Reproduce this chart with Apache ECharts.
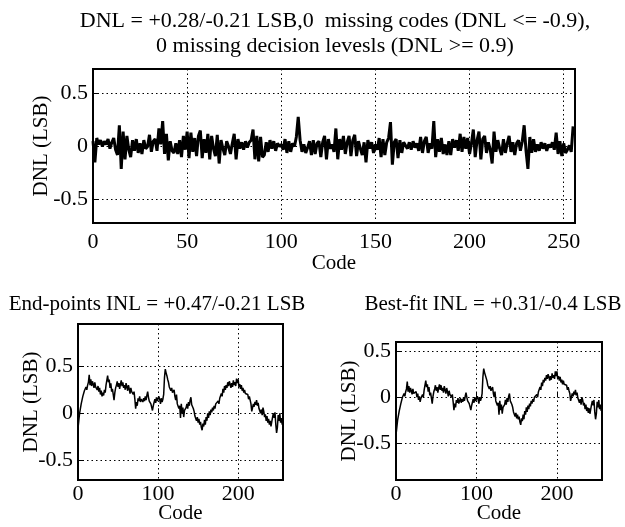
<!DOCTYPE html>
<html><head><meta charset="utf-8">
<script src="https://cdn.jsdelivr.net/npm/echarts@6/dist/echarts.min.js"></script>
<style>html,body{margin:0;padding:0;background:#fff}#c{width:625px;height:527px}</style>
</head><body><div id="c"></div>
<script>
// ---- data ----
const titleTop = 'DNL = +0.28/-0.21 LSB,0  missing codes (DNL <= -0.9),\n0 missing decision levesls (DNL >= 0.9)';
const titleLeft = 'End-points INL = +0.47/-0.21 LSB';
const titleRight = 'Best-fit INL = +0.31/-0.4 LSB';

const dnl = [
 0.05,-0.15,0.08,0.02,0.06,0.0,0.05,0.02,0.07,-0.02,0.04,0.08,-0.03,-0.08,0.2,-0.21,
 0.14,-0.12,0.1,-0.03,-0.1,0.06,-0.04,0.07,-0.06,0.03,-0.07,0.06,-0.02,0.0,0.11,-0.05,
 0.05,0.07,-0.04,0.17,0.02,0.24,-0.07,0.12,-0.13,0.05,-0.04,-0.06,0.03,-0.07,0.06,-0.1,
 0.1,-0.03,0.14,-0.11,0.13,-0.05,0.08,-0.09,0.1,0.15,-0.11,0.07,-0.06,0.12,-0.12,0.1,
 -0.02,-0.09,0.11,-0.16,0.06,-0.02,-0.08,0.05,0.0,-0.07,0.03,0.12,-0.12,0.07,-0.02,0.04,
 -0.03,0.05,-0.01,0.04,0.06,0.16,-0.12,0.1,-0.14,0.09,-0.1,-0.08,0.04,-0.05,0.06,-0.02,
 0.05,-0.04,0.03,0.0,0.02,-0.03,0.07,-0.06,0.05,-0.05,0.03,0.0,0.09,0.28,0.06,-0.05,
 0.02,-0.06,-0.01,0.05,-0.08,0.06,-0.07,0.03,0.05,-0.1,0.04,0.1,-0.12,0.07,-0.02,0.02,
 -0.05,0.17,-0.12,0.07,-0.03,0.1,-0.07,0.04,0.1,-0.09,0.06,0.11,-0.09,0.05,-0.02,-0.08,
 0.04,-0.15,0.06,-0.02,0.04,-0.06,0.02,-0.03,0.08,-0.1,0.07,-0.08,0.04,0.08,0.23,-0.17,
 0.04,0.07,-0.11,0.06,-0.06,0.04,0.01,-0.02,0.04,-0.03,0.05,-0.01,0.03,-0.04,0.09,-0.06,
 0.05,0.09,-0.06,0.03,-0.02,0.24,-0.1,0.07,-0.05,0.08,-0.07,0.02,-0.08,0.05,-0.08,0.07,
 -0.01,0.06,-0.04,0.12,-0.05,0.09,-0.02,0.08,-0.07,0.03,0.16,-0.1,0.06,0.14,-0.12,0.07,
 0.1,-0.06,0.04,-0.03,-0.16,0.14,-0.05,0.06,-0.02,-0.08,0.07,-0.06,0.03,0.1,-0.05,0.04,
 -0.08,0.03,0.06,-0.04,0.05,0.2,-0.04,-0.21,0.09,-0.06,0.07,-0.05,0.02,-0.04,0.04,-0.02,
 0.03,-0.04,0.02,-0.01,0.04,-0.03,0.13,-0.07,0.05,-0.09,0.03,-0.06,-0.03,0.01,-0.05,0.19
];

const inlEnd = [
 -0.16,-0.08,0.0,0.05,0.1,0.14,0.18,0.2,0.24,0.22,0.28,0.25,0.3,0.33,0.41,0.3,
 0.36,0.29,0.34,0.31,0.27,0.33,0.28,0.3,0.25,0.29,0.23,0.27,0.2,0.24,0.18,0.22,
 0.19,0.25,0.22,0.3,0.28,0.4,0.33,0.36,0.27,0.32,0.23,0.26,0.2,0.14,0.22,0.27,
 0.3,0.34,0.28,0.32,0.26,0.31,0.35,0.29,0.33,0.27,0.3,0.25,0.32,0.28,0.24,0.3,
 0.26,0.21,0.27,0.23,0.25,0.2,0.23,0.15,0.05,0.12,0.08,0.16,0.13,0.18,0.12,0.15,
 0.17,0.12,0.16,0.13,0.18,0.14,0.19,0.23,0.17,0.13,0.14,0.1,0.12,0.03,0.08,0.1,
 0.15,0.11,0.17,0.13,0.12,0.18,0.15,0.1,0.16,0.12,0.15,0.2,0.38,0.47,0.43,0.4,
 0.36,0.33,0.28,0.3,0.24,0.27,0.22,0.21,0.25,0.18,0.14,0.2,0.1,0.12,0.05,0.08,
 -0.05,0.1,0.0,0.06,-0.04,0.03,0.01,0.06,0.1,0.05,0.12,0.08,0.14,0.17,0.09,0.07,
 0.05,0.02,-0.03,-0.01,-0.08,-0.04,-0.1,-0.06,-0.12,-0.09,-0.15,-0.18,-0.11,-0.14,-0.07,-0.12,
 -0.04,-0.08,0.0,-0.05,0.02,-0.02,0.04,0.01,0.06,0.03,0.08,0.05,0.1,0.12,0.08,0.13,
 0.1,0.16,0.14,0.21,0.18,0.26,0.22,0.29,0.25,0.3,0.27,0.33,0.29,0.34,0.31,0.27,
 0.32,0.28,0.35,0.3,0.33,0.29,0.37,0.32,0.36,0.28,0.31,0.26,0.3,0.24,0.27,0.22,
 0.25,0.21,0.23,0.19,0.2,0.15,0.18,0.14,0.1,0.02,0.06,0.1,0.07,0.12,0.09,0.14,
 0.08,0.11,0.05,0.07,0.0,0.04,-0.02,0.06,0.02,-0.04,-0.01,-0.08,-0.03,-0.1,-0.06,-0.12,
 -0.08,-0.14,-0.09,-0.04,0.0,-0.05,0.01,-0.12,-0.21,-0.15,-0.02,-0.08,0.0,-0.1,-0.05,-0.12
];

const inlBest = [
 -0.41,-0.33,-0.25,-0.2,-0.15,-0.11,-0.07,-0.05,0.0,-0.02,0.04,0.01,0.06,0.09,0.17,0.06,
 0.12,0.05,0.1,0.07,0.03,0.09,0.04,0.06,0.02,0.06,0.0,0.04,-0.03,0.01,-0.05,-0.01,
 -0.03,0.03,0.0,0.08,0.06,0.18,0.11,0.14,0.06,0.11,0.02,0.05,-0.01,-0.07,0.01,0.06,
 0.09,0.13,0.07,0.11,0.05,0.1,0.14,0.08,0.13,0.07,0.1,0.05,0.12,0.08,0.04,0.1,
 0.06,0.01,0.07,0.03,0.05,0.0,0.03,-0.05,-0.14,-0.07,-0.11,-0.03,-0.06,-0.01,-0.07,-0.04,
 -0.01,-0.06,-0.02,-0.05,0.0,-0.04,0.01,0.05,0.0,-0.04,-0.03,-0.07,-0.05,-0.14,-0.09,-0.07,
 -0.02,-0.06,0.0,-0.04,-0.05,0.01,-0.02,-0.07,0.0,-0.04,-0.01,0.04,0.22,0.31,0.27,0.24,
 0.21,0.18,0.13,0.15,0.09,0.12,0.07,0.06,0.11,0.04,0.0,0.06,-0.04,-0.02,-0.09,-0.06,
 -0.19,-0.04,-0.14,-0.08,-0.18,-0.11,-0.13,-0.08,-0.03,-0.08,-0.01,-0.05,0.01,0.04,-0.04,-0.06,
 -0.08,-0.11,-0.16,-0.14,-0.21,-0.17,-0.23,-0.19,-0.24,-0.21,-0.27,-0.3,-0.23,-0.26,-0.19,-0.24,
 -0.15,-0.19,-0.11,-0.16,-0.09,-0.13,-0.07,-0.1,-0.04,-0.07,-0.02,-0.05,0.0,0.02,-0.02,0.03,
 0.0,0.06,0.04,0.11,0.08,0.16,0.12,0.19,0.16,0.21,0.18,0.24,0.2,0.25,0.22,0.18,
 0.23,0.19,0.26,0.21,0.24,0.2,0.28,0.23,0.28,0.2,0.23,0.18,0.22,0.16,0.19,0.14,
 0.18,0.14,0.16,0.12,0.13,0.08,0.11,0.07,0.04,-0.04,0.0,0.04,0.01,0.06,0.03,0.08,
 0.02,0.05,-0.01,0.01,-0.06,-0.02,-0.08,0.0,-0.03,-0.09,-0.06,-0.13,-0.08,-0.15,-0.11,-0.17,
 -0.12,-0.18,-0.13,-0.08,-0.04,-0.09,-0.03,-0.16,-0.24,-0.18,-0.05,-0.11,-0.03,-0.13,-0.08,-0.15
];

const xTicksTop = [0, 50, 100, 150, 200, 250];
const xTicksBottom = [0, 100, 200];
const yTicks = [-0.5, 0, 0.5];
const xName = 'Code';
const yName = 'DNL (LSB)';

// ---- chart ----
const FONT = 'Liberation Serif, Times New Roman, serif';
const pairs = arr => arr.map((v, i) => [i, v]);

function xAxisFor(gi, ticks, labelMargin, nameGap) {
  return {
    type: 'value', gridIndex: gi, min: 0, max: 256,
    axisLine: { show: false },
    axisTick: { inside: true, length: 5, customValues: ticks, lineStyle: { color: '#000', width: 1 } },
    axisLabel: { customValues: ticks, color: '#000', fontFamily: FONT, fontSize: 22, margin: labelMargin },
    splitLine: { show: true, lineStyle: { color: '#000', width: 1, type: [1.5, 3] } },
    name: xName, nameLocation: 'middle', nameGap: nameGap, nameMoveOverlap: false,
    nameTextStyle: { color: '#000', fontFamily: FONT, fontSize: 21 }
  };
}
function yAxisFor(gi, min, max, nameGap) {
  return {
    type: 'value', gridIndex: gi, min: min, max: max,
    axisLine: { show: false },
    axisTick: { inside: true, length: 5, customValues: yTicks, lineStyle: { color: '#000', width: 1 } },
    axisLabel: { customValues: yTicks, color: '#000', fontFamily: FONT, fontSize: 22, margin: 5 },
    splitLine: { show: true, lineStyle: { color: '#000', width: 1, type: [1.5, 3] } },
    name: yName, nameLocation: 'middle', nameGap: nameGap, nameRotate: 90, nameMoveOverlap: false,
    nameTextStyle: { color: '#000', fontFamily: FONT, fontSize: 21 }
  };
}
const gridStyle = { show: true, borderColor: '#000', borderWidth: 2, backgroundColor: '#fff' };

const option = {
  animation: false,
  backgroundColor: '#fff',
  title: [
    { text: titleTop, left: 330, top: 4, textAlign: 'center',
      textStyle: { fontFamily: FONT, fontSize: 22, fontWeight: 'normal', color: '#000', lineHeight: 25 } },
    { text: titleLeft, left: 152, top: 289, textAlign: 'center',
      textStyle: { fontFamily: FONT, fontSize: 21, fontWeight: 'normal', color: '#000' } },
    { text: titleRight, left: 488, top: 289, textAlign: 'center',
      textStyle: { fontFamily: FONT, fontSize: 21, fontWeight: 'normal', color: '#000' } }
  ],
  grid: [
    Object.assign({ left: 93, top: 69, width: 482, height: 154 }, gridStyle),
    Object.assign({ left: 78, top: 324, width: 205, height: 156 }, gridStyle),
    Object.assign({ left: 396, top: 342, width: 206, height: 138 }, gridStyle)
  ],
  xAxis: [
    xAxisFor(0, xTicksTop, 8, 30),
    xAxisFor(1, xTicksBottom, 3, 23),
    xAxisFor(2, xTicksBottom, 3, 23)
  ],
  yAxis: [
    yAxisFor(0, -0.72, 0.73, 41),
    yAxisFor(1, -0.71, 0.95, 36),
    yAxisFor(2, -0.9, 0.6, 36)
  ],
  series: [
    { type: 'line', xAxisIndex: 0, yAxisIndex: 0, data: pairs(dnl), showSymbol: false,
      lineStyle: { color: '#000', width: 3 }, silent: true },
    { type: 'line', xAxisIndex: 1, yAxisIndex: 1, data: pairs(inlEnd), showSymbol: false,
      lineStyle: { color: '#000', width: 1.5 }, silent: true },
    { type: 'line', xAxisIndex: 2, yAxisIndex: 2, data: pairs(inlBest), showSymbol: false,
      lineStyle: { color: '#000', width: 1.5 }, silent: true }
  ]
};
echarts.init(document.getElementById('c'), null, { renderer: 'canvas' }).setOption(option);
</script>
</body></html>
